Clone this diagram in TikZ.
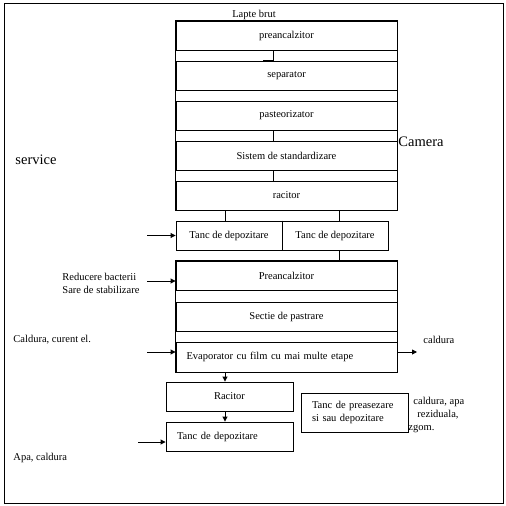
\documentclass[tikz,border=0pt]{standalone}
\usepackage{fontspec}
\setmainfont{Liberation Serif}
\usetikzlibrary{arrows.meta}
\tikzset{
  stage/.style={draw,minimum width=221pt,minimum height=29pt,inner sep=0pt},
  tank/.style={draw,minimum width=106pt,minimum height=29pt,inner sep=0pt},
  lbl/.style={inner sep=0pt,align=left},
  feed/.style={-{Triangle[length=5pt,width=5pt]}},
}
\begin{document}
\begin{tikzpicture}[x=1pt,y=-1pt,line width=0.9pt,font=\fontsize{10.5}{13}\selectfont]
\useasboundingbox (0,0) rectangle (506,506);
\draw (4,3) rectangle (503,503);
% upper column
\node[stage] (pre) at (286.5,35.5) {preancalzitor};
\node[stage] (sep) at (286.5,75.5) {separator};
\node[stage] (past) at (286.5,115.5) {pasteorizator};
\node[stage] (std) at (286.5,155.5) {Sistem de standardizare};
\node[stage] (rac) at (286.5,195.5) {racitor};
\draw (pre.north west) rectangle (rac.south east);
\node[tank] (tank1) at (229,235.5) {Tanc de depozitare};
\node[tank] (tank2) at (335,235.5) {Tanc de depozitare};
% lower column
\node[stage] (pre2) at (286.5,275.5) {Preancalzitor};
\node[stage] (sect) at (286.5,316.5) {Sectie de pastrare};
\node[stage,minimum height=30pt,text width=200pt] (evap) at (286.5,357) {Evaporator cu film cu mai multe etape};
\draw (pre2.north west) rectangle (evap.south east);
\node[draw,minimum width=127pt,minimum height=29pt,inner sep=0pt] (rac2) at (229.5,396.5) {Racitor};
\node[draw,minimum width=127pt,minimum height=29pt,inner sep=0pt,text width=105pt] (tankd) at (229.5,436.5) {Tanc de depozitare};
\node[draw,minimum width=107pt,minimum height=39pt,inner sep=0pt,text width=85pt,align=left] (tankp) at (354.5,412.5) {Tanc de preasezare\\si sau depozitare};
\foreach \n in {pre,sep,past,std,rac,pre2,sect,evap,tank1}
  \draw[line width=1.8pt] (\n.north east) -- (\n.south east);
% labels
\node[lbl] (lapte) at (254,15) {Lapte brut};
\node[lbl,anchor=west,font=\fontsize{14.5}{17}\selectfont] (camera) at (398,142) {Camera};
\node[lbl,anchor=west,font=\fontsize{14.5}{17}\selectfont] (service) at (15,160) {service};
\node[lbl,anchor=west] (reduc) at (62,283.5) {Reducere bacterii\\Sare de stabilizare};
\node[lbl,anchor=west] (cald1) at (13,340) {Caldura, curent el.};
\node[lbl,anchor=west] (caldr) at (423,340) {caldura};
\node[lbl,anchor=west] (apa) at (13,458) {Apa, caldura};
\node[lbl,anchor=west] (caldapa) at (408,414.5) {\hspace{5pt}caldura, apa\\\hspace{9pt}reziduala,\\zgom.};
% connectors
\draw ([xshift=-13.5pt]pre.south) -- ([xshift=-13.5pt]sep.north) -- ++(-10,0);
\draw ([xshift=-13.5pt]past.south) -- ([xshift=-13.5pt]std.north);
\draw ([xshift=-13.5pt]std.south) -- ([xshift=-13.5pt]rac.north);
\draw ([xshift=-4pt]tank1.north) -- ([xshift=-4pt]tank1.north |- rac.south);
\draw ([xshift=4pt]tank2.north) -- ([xshift=4pt]tank2.north |- rac.south);
\draw ([xshift=4pt]tank2.south) -- ([xshift=4pt]tank2.south |- pre2.north);
\coordinate (in1) at (147,235.5);
\coordinate (in2) at (147,281);
\coordinate (in3) at (147,352);
\coordinate (in4) at (138,442);
\coordinate (out1) at (417,352);
\draw[feed] (in1) -- (tank1.west);
\draw[feed] (in2) -- (in2 -| pre2.west);
\draw[feed] (in3) -- (in3 -| evap.west);
\draw[feed] (in4) -- (in4 -| tankd.west);
\draw[feed] (out1 -| evap.east) -- (out1);
\draw[feed] ([xshift=-4.5pt]evap.south -| rac2.north) -- ([xshift=-4.5pt]rac2.north);
\draw[feed] ([xshift=-4.5pt]rac2.south) -- ([xshift=-4.5pt]tankd.north);
\end{tikzpicture}
\end{document}
